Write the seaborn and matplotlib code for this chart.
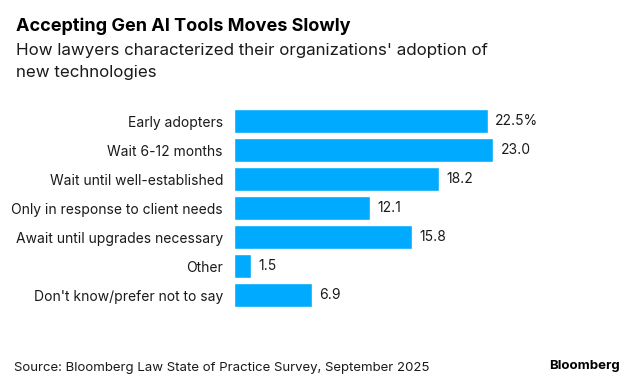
import pandas as pd
import matplotlib.pyplot as plt
import seaborn as sns

# Survey responses (percent of lawyers)
categories = ['Early adopters', 'Wait 6-12 months', 'Wait until well-established',
              'Only in response to client needs', 'Await until upgrades necessary',
              'Other', "Don't know/prefer not to say"]
shares = [22.5, 23.0, 18.2, 12.1, 15.8, 1.5, 6.9]
value_labels = ['22.5%', '23.0', '18.2', '12.1', '15.8', '1.5', '6.9']

df = pd.DataFrame({'category': categories, 'share': shares})

sns.set_theme(style='white')
plt.rcParams['font.family'] = ['Inter', 'DejaVu Sans']

fig = plt.figure(figsize=(6.33, 3.88), dpi=100)
ax = fig.add_axes([0.3697, 0.2023, 0.445, 0.5232])

sns.barplot(data=df, x='share', y='category', color='#00AAFF', width=0.8,
            saturation=1, ax=ax)

# Value labels at the end of each bar
for i, (v, lab) in enumerate(zip(shares, value_labels)):
    ax.text(v + 0.65, i, lab, va='center', ha='left', fontsize=10,
            color='#1a1a1a', clip_on=False)

ax.set_xlim(0, 25)
ax.set_ylim(6.5, -0.5)
ax.set_xlabel('')
ax.set_ylabel('')
ax.set_xticks([])
ax.tick_params(axis='y', length=0, pad=8, labelsize=10, labelcolor='#1a1a1a')
sns.despine(ax=ax, left=True, bottom=True)

# Titles and footer
fig.text(16 / 633, 1 - 31 / 388, 'Accepting Gen AI Tools Moves Slowly',
         fontsize=13, fontweight='bold', color='black', va='baseline')
fig.text(16 / 633, 1 - 55 / 388,
         "How lawyers characterized their organizations' adoption of",
         fontsize=12.2, color='#1a1a1a', va='baseline')
fig.text(16 / 633, 1 - 77 / 388, 'new technologies',
         fontsize=12.2, color='#1a1a1a', va='baseline')
fig.text(14 / 633, 1 - 371 / 388,
         'Source: Bloomberg Law State of Practice Survey, September 2025',
         fontsize=9.5, color='#1a1a1a', va='baseline')
fig.text(620 / 633, 1 - 369 / 388, 'Bloomberg', fontsize=9.5,
         fontweight='bold', color='black', ha='right', va='baseline')

fig.savefig('out.png', dpi=100)
